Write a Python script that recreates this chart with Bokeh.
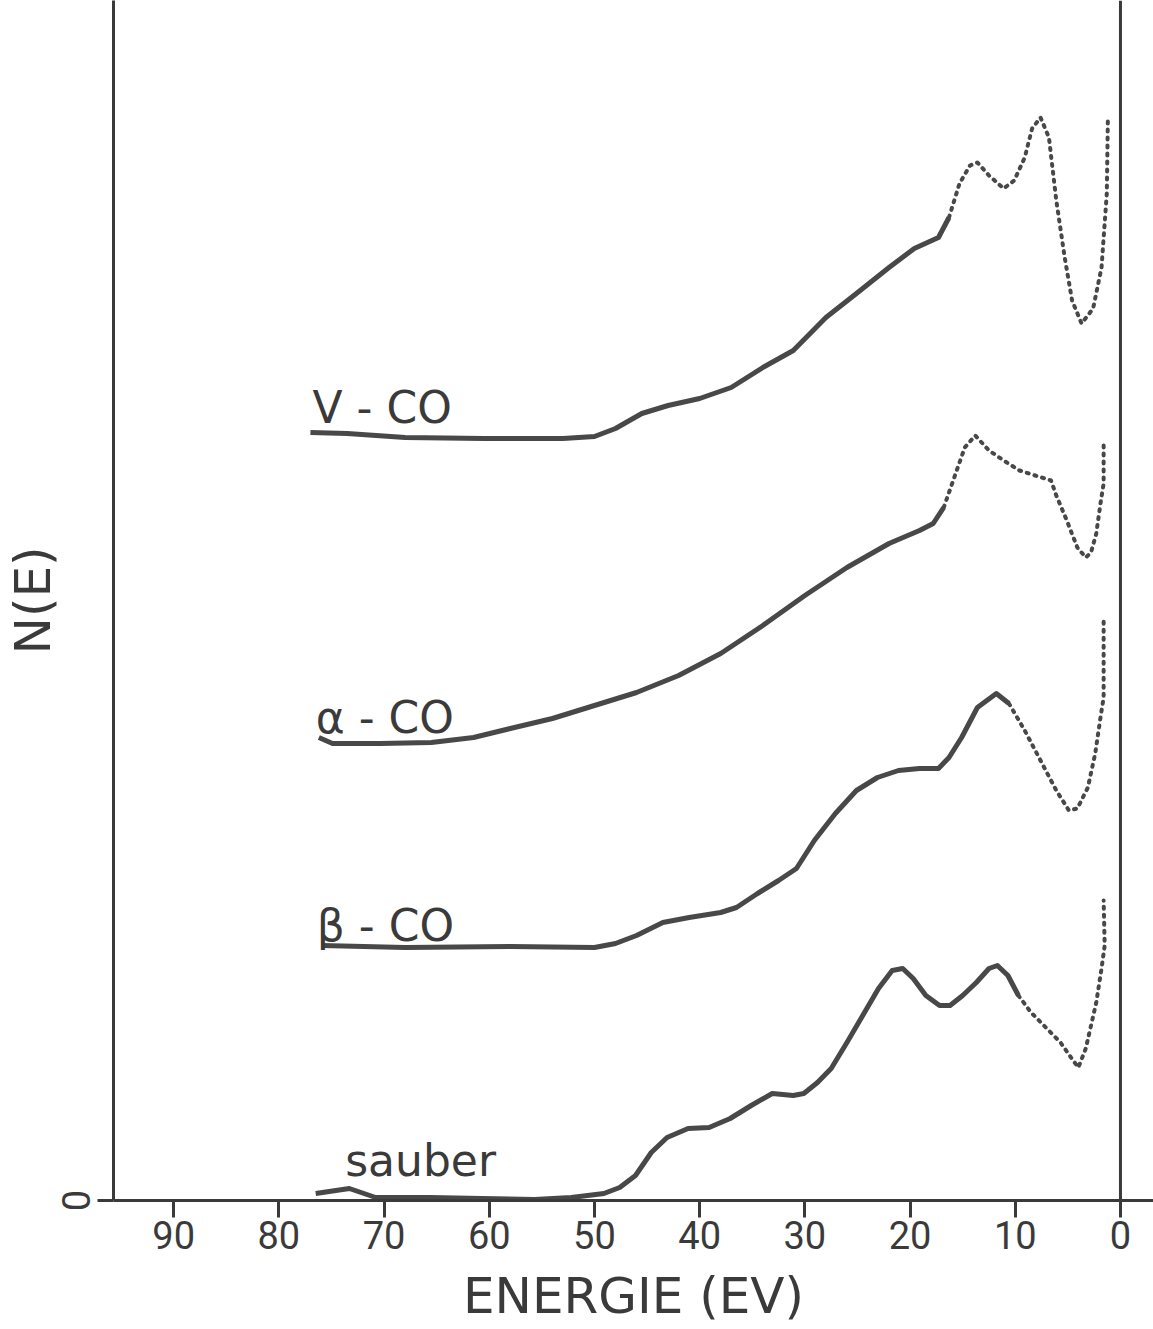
import math
from bokeh.plotting import figure
from bokeh.models import Range1d, Span, Label, FixedTicker
from bokeh.embed import file_html
from bokeh.resources import INLINE

# ---- data; energies in eV, N(E) in arbitrary units ----
sauber_e = [76.5, 73.3, 70.8, 65.7, 60.7, 55.7, 52.2, 49.1, 47.6, 46.1, 44.6, 43.1, 41.1, 39.1,
            37.1, 35.1, 33.1, 31.1, 30.1, 28.8, 27.5, 26.0, 24.5, 23.0, 21.7, 20.7, 19.7, 18.5,
            17.2, 16.2, 15.0, 13.7, 12.5, 11.7, 10.7, 9.7, 8.5, 7.0, 5.7, 4.5, 4.0, 3.3, 2.8,
            2.3, 1.8, 1.5, 1.6]
sauber_n = [0.07, 0.12, 0.03, 0.03, 0.02, 0.01, 0.03, 0.07, 0.13, 0.25, 0.48, 0.63, 0.72, 0.73,
            0.82, 0.95, 1.07, 1.05, 1.07, 1.18, 1.32, 1.58, 1.85, 2.12, 2.30, 2.32, 2.22, 2.05,
            1.95, 1.95, 2.05, 2.18, 2.32, 2.35, 2.25, 2.05, 1.88, 1.72, 1.58, 1.40, 1.33, 1.52,
            1.75, 1.98, 2.32, 2.55, 3.00]

beta_e = [75.9, 68.0, 58.0, 50.0, 48.0, 46.0, 43.5, 41.0, 38.0, 36.5, 34.5, 32.5, 30.8, 29.1,
          27.1, 25.1, 23.1, 21.1, 19.1, 17.3, 16.3, 15.1, 13.6, 11.8, 10.6, 9.1, 7.6, 6.1, 4.9,
          4.1, 3.1, 2.4, 1.9, 1.6, 1.6]
beta_n = [2.55, 2.53, 2.54, 2.53, 2.57, 2.65, 2.78, 2.83, 2.88, 2.93, 3.07, 3.20, 3.32, 3.60,
          3.87, 4.10, 4.23, 4.30, 4.32, 4.32, 4.43, 4.63, 4.93, 5.07, 4.97, 4.70, 4.40, 4.10,
          3.90, 3.92, 4.13, 4.47, 4.83, 5.03, 5.80]

alpha_e = [76.2, 74.9, 70.4, 65.5, 61.5, 58.0, 54.0, 50.0, 46.0, 42.0, 38.0, 34.0, 30.0, 26.0,
           22.0, 19.1, 17.8, 16.8, 15.8, 14.8, 13.8, 12.5, 11.1, 9.6, 8.1, 6.6, 6.1, 5.1, 4.1,
           3.3, 2.8, 2.3, 1.9, 1.6, 1.6]
alpha_n = [4.63, 4.57, 4.57, 4.58, 4.63, 4.72, 4.82, 4.95, 5.08, 5.25, 5.47, 5.75, 6.05, 6.33,
           6.57, 6.70, 6.77, 6.93, 7.23, 7.53, 7.65, 7.50, 7.40, 7.30, 7.25, 7.20, 7.05, 6.80,
           6.53, 6.43, 6.48, 6.67, 6.97, 7.17, 7.60]

vco_e = [77.0, 73.5, 68.0, 60.5, 53.0, 50.0, 48.0, 45.5, 43.0, 40.0, 37.0, 34.0, 31.1, 28.0,
         25.1, 22.0, 19.6, 17.3, 16.3, 15.3, 14.3, 13.6, 12.5, 11.1, 10.1, 9.1, 8.4, 7.6, 6.8,
         6.1, 5.3, 4.6, 3.7, 2.6, 1.8, 1.3, 1.2]
vco_n = [7.68, 7.67, 7.63, 7.62, 7.62, 7.64, 7.72, 7.87, 7.95, 8.02, 8.13, 8.33, 8.50, 8.83,
         9.07, 9.33, 9.52, 9.63, 9.83, 10.17, 10.35, 10.38, 10.25, 10.12, 10.20, 10.43, 10.72,
         10.83, 10.63, 10.00, 9.43, 9.00, 8.77, 8.92, 9.33, 10.07, 10.80]

curve_labels = ["V - CO", "α - CO", "β - CO", "sauber"]
x_ticks = [0, 10, 20, 30, 40, 50, 60, 70, 80, 90]
y_ticks = [0]

INK = "#3a3a3a"
CURVE = "#484848"
TICKFONT = "Roboto"
LABFONT = "DejaVu Sans"

p = figure(width=1153, height=1329,
           x_range=Range1d(95.72, -3.14), y_range=Range1d(0, 12.0),
           min_border_left=113, min_border_right=0, min_border_top=0, min_border_bottom=129,
           output_backend="svg", toolbar_location=None)
p.outline_line_color = None
p.xgrid.visible = False
p.ygrid.visible = False
p.background_fill_color = "white"
p.border_fill_color = "white"

# x axis
xa = p.xaxis[0]
xa.ticker = FixedTicker(ticks=x_ticks)
xa.minor_tick_line_color = None
xa.major_tick_in = 0
xa.major_tick_out = 17
xa.major_tick_line_width = 3
xa.major_tick_line_color = INK
xa.axis_line_width = 3
xa.axis_line_color = INK
xa.major_label_text_font = TICKFONT
xa.major_label_text_font_size = "38px"
xa.major_label_text_color = INK
xa.major_label_standoff = 3
xa.axis_label = "ENERGIE (EV)"
xa.axis_label_text_font = LABFONT
xa.axis_label_text_font_size = "50px"
xa.axis_label_text_font_style = "normal"
xa.axis_label_text_color = INK
xa.axis_label_standoff = 15

# y axis
ya = p.yaxis[0]
ya.ticker = FixedTicker(ticks=y_ticks)
ya.minor_tick_line_color = None
ya.major_tick_in = 0
ya.major_tick_out = 16
ya.major_tick_line_width = 3
ya.major_tick_line_color = INK
ya.axis_line_width = 3
ya.axis_line_color = INK
ya.major_label_text_font = TICKFONT
ya.major_label_text_font_size = "38px"
ya.major_label_text_color = INK
ya.major_label_orientation = "vertical"
ya.major_label_standoff = 8
ya.axis_label = "N(E)"
ya.axis_label_text_font = LABFONT
ya.axis_label_text_font_size = "50px"
ya.axis_label_text_font_style = "normal"
ya.axis_label_text_color = INK
ya.axis_label_standoff = -3

# right reference line at E = 0
p.add_layout(Span(location=0, dimension="height", line_color=INK, line_width=3))

# curves: densely recorded part solid, sparsely recorded part dotted
sparse_from = [9.7, 10.6, 17.3, 16.3]
for (e, n), thr in zip([(sauber_e, sauber_n), (beta_e, beta_n), (alpha_e, alpha_n), (vco_e, vco_n)],
                       sparse_from):
    k = next(i for i, v in enumerate(e) if v <= thr)
    p.line(e[:k + 1], n[:k + 1], line_color=CURVE, line_width=5, line_join="round")
    p.line(e[k:], n[k:], line_color=CURVE, line_width=4, line_dash="2 6", line_cap="round",
           line_join="round")

# curve labels
for txt, (lx, ly) in zip(curve_labels, [(76.8, 7.93), (76.5, 4.83), (76.4, 2.75), (73.7, 0.40)]):
    p.add_layout(Label(x=lx, y=ly, text=txt, text_font=LABFONT, text_font_size="44px",
                       text_color=INK, text_align="left", text_baseline="alphabetic"))

open("out.html", "w").write(file_html(p, INLINE))
